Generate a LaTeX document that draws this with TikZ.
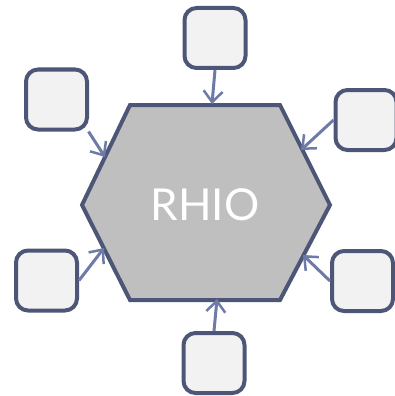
\documentclass[tikz,border=0pt]{standalone}
\usepackage{fontspec}
\setmainfont{Lato}
\usetikzlibrary{arrows.meta}
\definecolor{edge}{HTML}{4E5677}
\definecolor{arr}{HTML}{6E7BA8}
\definecolor{boxfill}{HTML}{F2F2F2}
\definecolor{hexfill}{HTML}{BFBFBF}
\tikzset{
  satbox/.style={draw=edge, line width=4pt, fill=boxfill, rounded corners=12pt, minimum width=61pt, minimum height=60pt, inner sep=0pt},
  link/.style={draw=arr, line width=3pt, -{Straight Barb[length=11pt,width=19pt,line width=2.5pt]}}
}
\begin{document}
\begin{tikzpicture}[x=1pt,y=-1pt]
\useasboundingbox (0,0) rectangle (394,396);
\coordinate (hl) at (82,205);
\coordinate (htl) at (130,105);
\coordinate (htr) at (280,105);
\coordinate (hr) at (330,205);
\coordinate (hbr) at (280,300);
\coordinate (hbl) at (130,300);
\draw[draw=edge, line width=4pt, fill=hexfill, line join=miter] (hl) -- (htl) -- (htr) -- (hr) -- (hbr) -- (hbl) -- cycle;
\node[text=white, font=\fontsize{44}{44}\selectfont] (rhio) at (205,205) {RHIO};
\node[satbox] (top) at (215,38) {};
\node[satbox] (tl) at (56.5,99.5) {};
\node[satbox] (rt) at (366,120) {};
\node[satbox] (lb) at (46.5,280.5) {};
\node[satbox] (rb) at (362.5,281) {};
\node[satbox] (bot) at (214,363) {};
\coordinate (etop) at (212,104);
\coordinate (etl) at (105,157);
\coordinate (ert) at (301,150);
\coordinate (elb) at (104,248);
\coordinate (erb) at (303,255);
\coordinate (ebot) at (217,299);
\draw[link] (top.south) -- (etop);
\draw[link] (tl.-45) -- (etl);
\draw[link] (rt.west) -- (ert);
\draw[link] (lb.east) -- (elb);
\draw[link] (rb.west) -- (erb);
\draw[link] (bot.north) -- (ebot);
\end{tikzpicture}
\end{document}
